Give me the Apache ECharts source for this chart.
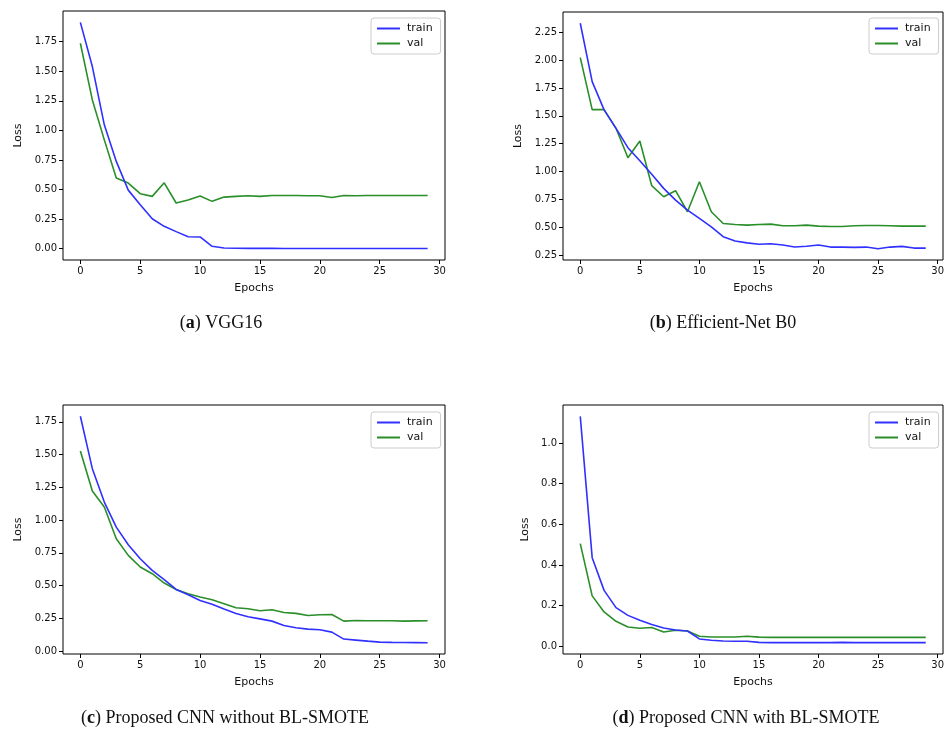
<!DOCTYPE html>
<html>
<head>
<meta charset="utf-8">
<script src="https://cdn.jsdelivr.net/npm/echarts@6/dist/echarts.min.js"></script>
<style>
html,body{margin:0;padding:0;background:#fff;}
#chart{width:946px;height:731px;}
</style>
</head>
<body>
<div id="chart"></div>
<script>
// ---- data ----
const epochs = [0,1,2,3,4,5,6,7,8,9,10,11,12,13,14,15,16,17,18,19,20,21,22,23,24,25,26,27,28,29];

const vggTrain = [1.914,1.540,1.047,0.738,0.495,0.372,0.253,0.189,0.144,0.101,0.099,0.020,0.006,0.003,0.002,0.002,0.002,0.001,0.001,0.001,0.001,0.001,0.001,0.001,0.001,0.001,0.001,0.001,0.001,0.001];
const vggVal   = [1.737,1.258,0.920,0.597,0.555,0.465,0.442,0.557,0.386,0.411,0.445,0.400,0.436,0.442,0.448,0.442,0.450,0.450,0.449,0.448,0.448,0.433,0.450,0.447,0.449,0.450,0.449,0.450,0.450,0.450];

const effTrain = [2.331,1.807,1.553,1.388,1.214,1.097,0.975,0.849,0.744,0.654,0.579,0.504,0.415,0.376,0.360,0.348,0.352,0.340,0.322,0.330,0.340,0.322,0.322,0.319,0.322,0.307,0.322,0.328,0.313,0.313];
const effVal   = [2.023,1.556,1.556,1.388,1.124,1.274,0.873,0.774,0.828,0.639,0.909,0.639,0.534,0.525,0.519,0.525,0.528,0.513,0.513,0.519,0.510,0.507,0.507,0.513,0.515,0.516,0.513,0.510,0.510,0.510];

const cnnTrain = [1.793,1.393,1.138,0.947,0.812,0.705,0.616,0.545,0.471,0.430,0.387,0.357,0.321,0.288,0.262,0.246,0.229,0.196,0.178,0.168,0.163,0.145,0.092,0.084,0.076,0.069,0.067,0.066,0.065,0.064];
const cnnVal   = [1.528,1.222,1.100,0.858,0.731,0.642,0.591,0.520,0.471,0.438,0.413,0.392,0.362,0.331,0.323,0.308,0.316,0.295,0.288,0.272,0.278,0.280,0.229,0.234,0.232,0.232,0.232,0.229,0.231,0.232];

const smoteTrain = [1.131,0.436,0.275,0.190,0.152,0.128,0.107,0.090,0.080,0.075,0.036,0.030,0.026,0.025,0.025,0.019,0.018,0.018,0.018,0.018,0.018,0.018,0.019,0.018,0.018,0.018,0.018,0.018,0.018,0.018];
const smoteVal   = [0.505,0.248,0.169,0.123,0.095,0.089,0.092,0.070,0.079,0.075,0.049,0.046,0.046,0.046,0.049,0.045,0.044,0.044,0.044,0.044,0.044,0.044,0.044,0.044,0.044,0.044,0.044,0.044,0.044,0.044];

const xTicks = [0,5,10,15,20,25,30];
const yTicksA = [0,0.25,0.5,0.75,1.0,1.25,1.5,1.75];
const yTicksB = [0.25,0.5,0.75,1.0,1.25,1.5,1.75,2.0,2.25];
const yTicksC = [0,0.25,0.5,0.75,1.0,1.25,1.5,1.75];
const yTicksD = [0,0.2,0.4,0.6,0.8,1.0];

const seriesNames = ['train','val'];
const captionLetters = ['a','b','c','d'];
const captionTexts = ['VGG16','Efficient-Net B0','Proposed CNN without BL-SMOTE','Proposed CNN with BL-SMOTE'];
const xAxisName = 'Epochs';
const yAxisName = 'Loss';

// ---- layout / style ----
const BLUE = '#3030ff';
const GREEN = '#2a8f2a';
const SANS = 'DejaVu Sans';

const panels = [
  {grid:{left:63, top:11, width:382, height:249}, ymin:-0.096, ymax:2.01, ticks:yTicksA, dec:2, gap:39, legend:{left:371, top:18}, train:vggTrain, val:vggVal, cap:{x:221, y:323}},
  {grid:{left:563, top:12, width:380, height:248}, ymin:0.206, ymax:2.432, ticks:yTicksB, dec:2, gap:39, legend:{left:869, top:18}, train:effTrain, val:effVal, cap:{x:723, y:323}},
  {grid:{left:63, top:405, width:382, height:249}, ymin:-0.022, ymax:1.879, ticks:yTicksC, dec:2, gap:39, legend:{left:371, top:412}, train:cnnTrain, val:cnnVal, cap:{x:225, y:718}},
  {grid:{left:563, top:405, width:380, height:249}, ymin:-0.038, ymax:1.187, ticks:yTicksD, dec:1, gap:32, legend:{left:869, top:412}, train:smoteTrain, val:smoteVal, cap:{x:746, y:718}}
];

const grids = [], xAxes = [], yAxes = [], series = [], legends = [], graphics = [];

panels.forEach((p, i) => {
  grids.push(Object.assign({show:true, borderColor:'#000', borderWidth:1, backgroundColor:'#fff', containLabel:false, outerBoundsMode:'none'}, p.grid));
  xAxes.push({
    type:'value', gridIndex:i, min:-1.45, max:30.45, position:'bottom',
    name:xAxisName, nameLocation:'middle', nameGap:23,
    nameTextStyle:{fontFamily:SANS, fontSize:11, color:'#111'},
    axisLine:{show:false, onZero:false},
    axisTick:{show:true, length:4, lineStyle:{color:'#000'}, customValues:xTicks},
    axisLabel:{show:true, fontFamily:SANS, fontSize:10, color:'#111', margin:6, customValues:xTicks, formatter:v=>String(v)},
    splitLine:{show:false}
  });
  yAxes.push({
    type:'value', gridIndex:i, min:p.ymin, max:p.ymax, position:'left',
    name:yAxisName, nameLocation:'middle', nameGap:p.gap, nameRotate:90,
    nameTextStyle:{fontFamily:SANS, fontSize:11, color:'#111'},
    axisLine:{show:false, onZero:false},
    axisTick:{show:true, length:4, lineStyle:{color:'#000'}, customValues:p.ticks},
    axisLabel:{show:true, fontFamily:SANS, fontSize:10, color:'#111', margin:6, customValues:p.ticks, formatter:v=>Number(v).toFixed(p.dec)},
    splitLine:{show:false}
  });
  series.push({
    name:seriesNames[0], type:'line', xAxisIndex:i, yAxisIndex:i, showSymbol:false, symbol:'none',
    lineStyle:{color:BLUE, width:1.6}, itemStyle:{color:BLUE}, z:3,
    data: epochs.map((e, k) => [e, p.train[k]])
  });
  series.push({
    name:seriesNames[1], type:'line', xAxisIndex:i, yAxisIndex:i, showSymbol:false, symbol:'none',
    lineStyle:{color:GREEN, width:1.6}, itemStyle:{color:GREEN}, z:2,
    data: epochs.map((e, k) => [e, p.val[k]])
  });
  legends.push({
    left:p.legend.left, top:p.legend.top, orient:'vertical',
    data:[{name:seriesNames[0], icon:'rect', itemStyle:{color:BLUE}}, {name:seriesNames[1], icon:'rect', itemStyle:{color:GREEN}}],
    itemWidth:23, itemHeight:2, itemGap:4,
    padding:[5,8,5,6], borderColor:'#cccccc', borderWidth:1, borderRadius:3, backgroundColor:'#fff',
    selectedMode:false,
    textStyle:{fontFamily:SANS, fontSize:11, color:'#111', padding:[0,0,0,2]}
  });
  graphics.push({
    type:'text', x:p.cap.x, y:p.cap.y,
    style:{
      text:'({b|' + captionLetters[i] + '}) ' + captionTexts[i],
      font:'18px "Liberation Serif"', fill:'#111', align:'center', verticalAlign:'middle',
      rich:{b:{fontWeight:'bold', fontFamily:'Liberation Serif', fontSize:18, fill:'#111'}}
    }
  });
});

const chart = echarts.init(document.getElementById('chart'), null, {renderer:'canvas'});
chart.setOption({
  animation:false,
  backgroundColor:'#fff',
  grid:grids, xAxis:xAxes, yAxis:yAxes, series:series, legend:legends, graphic:graphics
});
</script>
</body>
</html>
